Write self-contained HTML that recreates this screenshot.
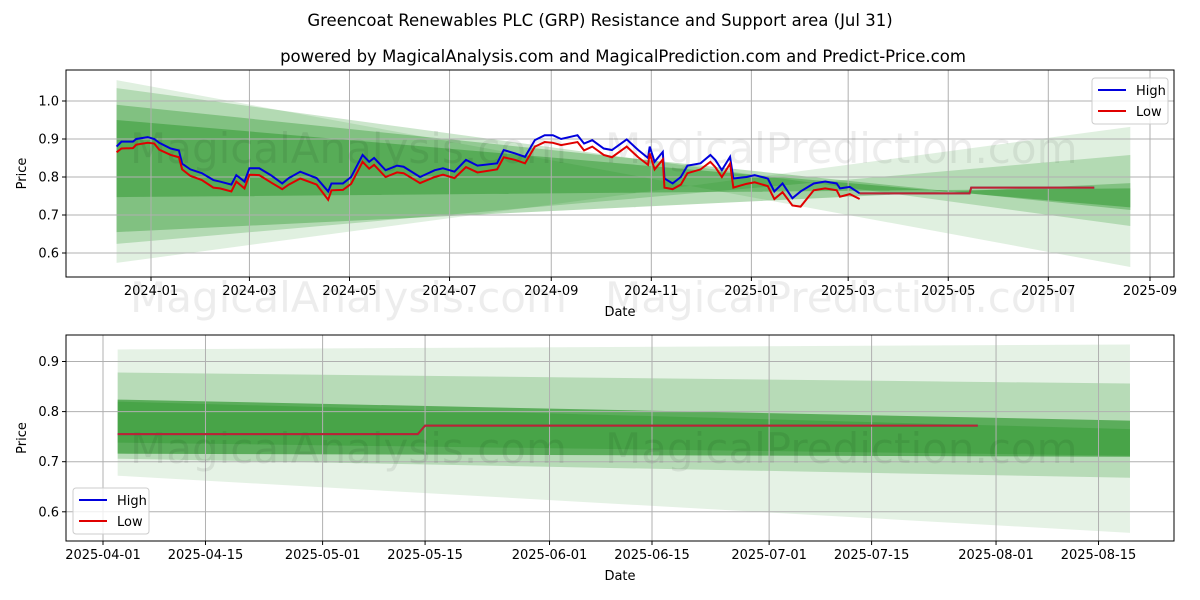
<!DOCTYPE html>
<html><head><meta charset="utf-8"><style>
html,body{margin:0;padding:0;background:#fff;}
svg{display:block;font-family:"DejaVu Sans","Liberation Sans",sans-serif;}
</style></head><body>
<svg id="c" width="1200" height="600" viewBox="0 0 1200 600" xmlns="http://www.w3.org/2000/svg">
<text x="600" y="26" text-anchor="middle" font-size="16.5" fill="#000">Greencoat Renewables PLC (GRP) Resistance and Support area (Jul 31)</text>
<text x="623" y="62" text-anchor="middle" font-size="16.5" fill="#000">powered by MagicalAnalysis.com and MagicalPrediction.com and Predict-Price.com</text>
<g id="top"></g>
<g id="bot"></g>
</svg>
<script>
// ---- top chart data (days since 2024-01-01) ----
const topDays = [-21,-18,-11,-9,-2,2,5,12,17,19,24,31,38,42,49,52,57,60,66,73,80,84,91,101,108,110,117,122,129,133,136,143,150,154,164,173,178,185,192,199,211,215,222,228,234,240,245,250,260,264,269,276,281,290,297,303,304,307,312,313,318,323,327,335,341,344,348,353,355,363,368,376,380,385,391,396,404,411,418,420,426,432];
const topHigh = [0.88,0.893,0.893,0.90,0.905,0.90,0.89,0.875,0.87,0.835,0.82,0.81,0.792,0.788,0.78,0.805,0.788,0.823,0.823,0.805,0.783,0.797,0.814,0.797,0.762,0.783,0.783,0.80,0.858,0.84,0.85,0.818,0.83,0.827,0.80,0.818,0.823,0.814,0.845,0.83,0.836,0.871,0.862,0.853,0.897,0.91,0.91,0.90,0.91,0.888,0.897,0.875,0.871,0.899,0.871,0.85,0.88,0.84,0.866,0.796,0.783,0.80,0.83,0.836,0.858,0.845,0.818,0.853,0.796,0.80,0.805,0.796,0.762,0.783,0.744,0.762,0.783,0.788,0.783,0.77,0.774,0.757];
const topLow = [0.865,0.875,0.876,0.885,0.89,0.888,0.872,0.858,0.852,0.82,0.803,0.792,0.772,0.77,0.762,0.788,0.77,0.806,0.805,0.786,0.768,0.78,0.796,0.78,0.74,0.765,0.766,0.782,0.84,0.822,0.832,0.80,0.812,0.81,0.784,0.8,0.806,0.797,0.826,0.812,0.82,0.852,0.845,0.836,0.88,0.892,0.89,0.884,0.892,0.87,0.88,0.858,0.852,0.88,0.852,0.832,0.862,0.82,0.846,0.772,0.768,0.78,0.81,0.82,0.84,0.826,0.8,0.835,0.772,0.782,0.786,0.776,0.742,0.76,0.725,0.722,0.765,0.77,0.765,0.748,0.755,0.742];
const topPredDays = [432,499,500,575];
const topPred = [0.757,0.757,0.772,0.772];
const topBandStart = -21, topBandEnd = 597;
const topBandUpper = [[1.055,0.563],[1.034,0.671],[0.99,0.713],[0.95,0.72]];
const topBandLower = [[0.574,0.932],[0.624,0.858],[0.655,0.784],[0.747,0.77]];
const topBandAlpha = [0.12,0.2,0.28,0.32];
const topYTicks = [0.6,0.7,0.8,0.9,1.0];
const topXTickLabels = ["2024-01","2024-03","2024-05","2024-07","2024-09","2024-11","2025-01","2025-03","2025-05","2025-07","2025-09"];
const topXTickDays = [0,60,121,182,244,305,366,425,486,547,609];
// ---- bottom chart data (days since 2025-04-01) ----
const botPredDays = [2,43,44,119.5];
const botPred = [0.755,0.755,0.772,0.772];
const botBandStart = 2, botBandEnd = 140.3;
const botBandUpper = [[0.924,0.934],[0.878,0.856],[0.824,0.782],[0.82,0.765]];
const botBandLower = [[0.672,0.558],[0.706,0.668],[0.716,0.71],[0.738,0.712]];
const botBandAlpha = [0.1,0.2,0.5,0.2];
const botYTicks = [0.6,0.7,0.8,0.9];
const botXTickLabels = ["2025-04-01","2025-04-15","2025-05-01","2025-05-15","2025-06-01","2025-06-15","2025-07-01","2025-07-15","2025-08-01","2025-08-15"];
const botXTickDays = [0,14,30,44,61,75,91,105,122,136];

const NS="http://www.w3.org/2000/svg";
function mk(parent,tag,attrs){const e=document.createElementNS(NS,tag);for(const k in attrs)e.setAttribute(k,attrs[k]);parent.appendChild(e);return e;}

function panel(g,box,cfg){
  const X=d=>cfg.x0+(d-cfg.xd0)*cfg.pxd;
  const Y=v=>cfg.y0+(cfg.v0-v)*cfg.pxv;
  cfg.upper.forEach((u,i)=>{
    const l=cfg.lower[i];
    const p=mk(g,'polygon',{points:`${X(cfg.bs)},${Y(u[0])} ${X(cfg.be)},${Y(u[1])} ${X(cfg.be)},${Y(l[1])} ${X(cfg.bs)},${Y(l[0])}`,fill:'#008000','fill-opacity':cfg.alpha[i]});
    
    
  });
  cfg.yt.forEach(v=>{const l=mk(g,'line',{x1:box.x0,x2:box.x1,y1:Y(v),y2:Y(v),stroke:'#b0b0b0','stroke-width':1});
    });
  cfg.xtd.forEach(d=>{const l=mk(g,'line',{x1:X(d),x2:X(d),y1:box.y0,y2:box.y1,stroke:'#b0b0b0','stroke-width':1});
    });
  cfg.wm.forEach(w=>{const t=mk(g,'text',{x:w[0],y:w[1],'font-size':42,fill:'#000','fill-opacity':0.07});t.textContent=w[2];
    });
  if(cfg.hd){
    const ph=cfg.hd.map((d,i)=>`${X(d)},${Y(cfg.hi[i])}`).join(' ');
    const pl=cfg.hd.map((d,i)=>`${X(d)},${Y(cfg.lo[i])}`).join(' ');
    const a=mk(g,'polyline',{points:ph,fill:'none',stroke:'#0000dd','stroke-width':2});
    
    const b=mk(g,'polyline',{points:pl,fill:'none',stroke:'#e00000','stroke-width':2});
    
  }
  const pp=cfg.pd.map((d,i)=>`${X(d)},${Y(cfg.pv[i])}`).join(' ');
  const pa=mk(g,'polyline',{points:pp,fill:'none',stroke:'#2040c0','stroke-width':2});
  
  const pb=mk(g,'polyline',{points:pp,fill:'none',stroke:'#d02020','stroke-width':2,'stroke-opacity':0.9});
  
  const f=mk(g,'rect',{x:box.x0,y:box.y0,width:box.x1-box.x0,height:box.y1-box.y0,fill:'none',stroke:'#000','stroke-width':1});
  
  cfg.yt.forEach(v=>{mk(g,'line',{x1:box.x0-4,x2:box.x0,y1:Y(v),y2:Y(v),stroke:'#000'});
    const t=mk(g,'text',{x:box.x0-7,y:Y(v)+4.5,'text-anchor':'end','font-size':13});t.textContent=v.toFixed(1);
    });
  cfg.xtd.forEach((d,i)=>{mk(g,'line',{x1:X(d),x2:X(d),y1:box.y1,y2:box.y1+4,stroke:'#000'});
    const t=mk(g,'text',{x:X(d),y:box.y1+18,'text-anchor':'middle','font-size':13});t.textContent=cfg.xtl[i];
    });
  const xl=mk(g,'text',{x:(box.x0+box.x1)/2,y:box.y1+39,'text-anchor':'middle','font-size':13});xl.textContent='Date';
  
  const yl=mk(g,'text',{x:0,y:0,'text-anchor':'middle','font-size':13,transform:`translate(26,${(box.y0+box.y1)/2}) rotate(-90)`});yl.textContent='Price';
  
  const L=cfg.leg;
  const lg=mk(g,'g',{});
  
  mk(lg,'rect',{x:L[0],y:L[1],width:76,height:46,rx:3,fill:'#fff','fill-opacity':0.8,stroke:'#cccccc'});
  [['High','#0000dd'],['Low','#e00000']].forEach((e,i)=>{
    mk(lg,'line',{x1:L[0]+6,x2:L[0]+34,y1:L[1]+12+i*21,y2:L[1]+12+i*21,stroke:e[1],'stroke-width':2});
    const t=mk(lg,'text',{x:L[0]+44,y:L[1]+17+i*21,'font-size':13});t.textContent=e[0];
    
  });
}
panel(document.getElementById('top'),{x0:66,x1:1174,y0:70,y1:277},{
  xd0:0,pxd:1.6404,v0:1.0,y0:101,pxv:380,x0:151,
  bs:topBandStart,be:topBandEnd,upper:topBandUpper,lower:topBandLower,alpha:topBandAlpha,
  yt:topYTicks,xtd:topXTickDays,xtl:topXTickLabels,
  hd:topDays,hi:topHigh,lo:topLow,pd:topPredDays,pv:topPred,
  wm:[[130,163,'MagicalAnalysis.com'],[605,163,'MagicalPrediction.com'],[130,312,'MagicalAnalysis.com'],[605,312,'MagicalPrediction.com']],
  leg:[1092,78]});
panel(document.getElementById('bot'),{x0:66,x1:1174,y0:335,y1:541},{
  xd0:0,pxd:7.32,v0:0.9,y0:361.5,pxv:501,x0:103,
  bs:botBandStart,be:botBandEnd,upper:botBandUpper,lower:botBandLower,alpha:botBandAlpha,
  yt:botYTicks,xtd:botXTickDays,xtl:botXTickLabels,
  hd:null,pd:botPredDays,pv:botPred,
  wm:[[130,463,'MagicalAnalysis.com'],[605,463,'MagicalPrediction.com']],
  leg:[73,488]});
</script>
</body></html>
